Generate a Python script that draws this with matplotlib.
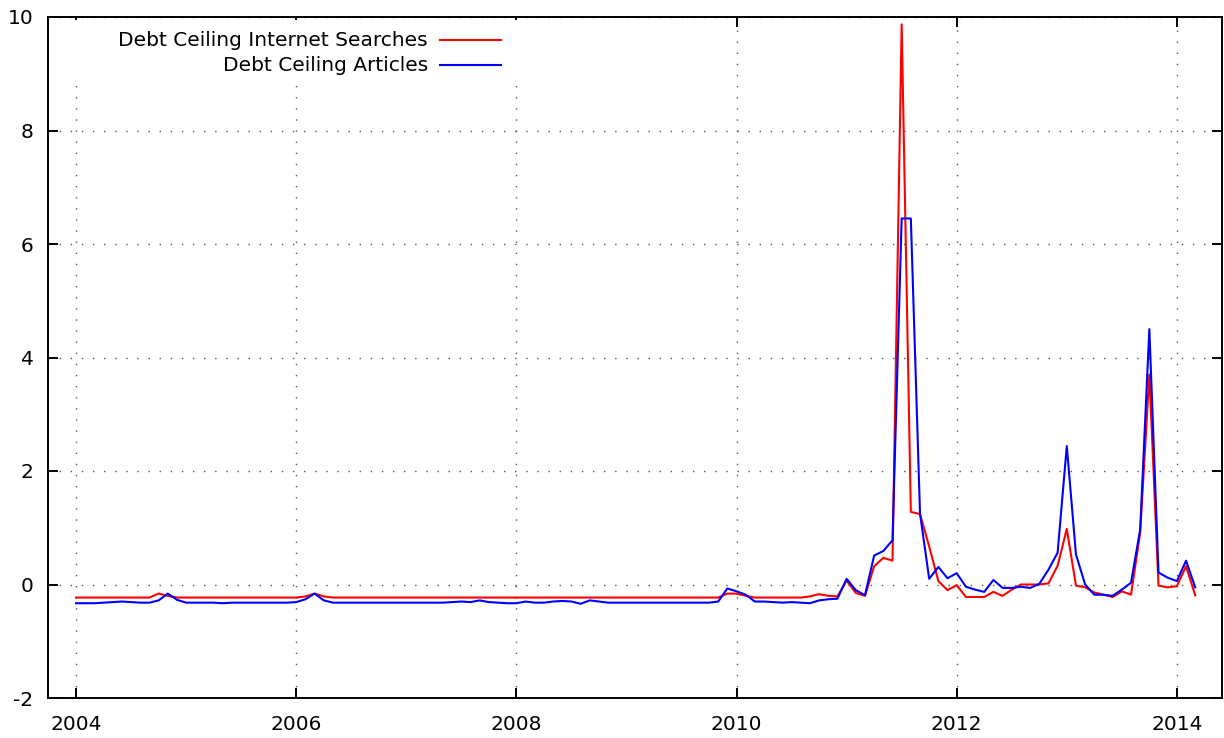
import numpy as np
import matplotlib
matplotlib.use("Agg")
import matplotlib.pyplot as plt

# Monthly data, Jan 2004 .. Mar 2014
start_year = 2004
n_months = 123

searches = [
    -0.23, -0.23, -0.23, -0.23, -0.23, -0.23, -0.23, -0.23, -0.23, -0.16,   # 2004-01..10
    -0.20, -0.23, -0.23, -0.23, -0.23, -0.23, -0.23, -0.23, -0.23, -0.23,   # ..2005-08
    -0.23, -0.23, -0.23, -0.23, -0.23, -0.21, -0.16, -0.21, -0.23, -0.23,   # ..2006-06
    -0.23, -0.23, -0.23, -0.23, -0.23, -0.23, -0.23, -0.23, -0.23, -0.23,   # ..2007-04
    -0.23, -0.23, -0.23, -0.23, -0.23, -0.23, -0.23, -0.23, -0.23, -0.23,   # ..2008-02
    -0.23, -0.23, -0.23, -0.23, -0.23, -0.23, -0.23, -0.23, -0.23, -0.23,   # ..2008-12
    -0.23, -0.23, -0.23, -0.23, -0.23, -0.23, -0.23, -0.23, -0.23, -0.23,   # ..2009-10
    -0.23, -0.16, -0.16, -0.20, -0.23, -0.23, -0.23, -0.23, -0.23, -0.23,   # ..2010-08
    -0.21, -0.17, -0.20, -0.21, 0.07, -0.15, -0.20, 0.32, 0.47, 0.42,       # ..2011-06
    9.87, 1.28, 1.24, 0.67, 0.06, -0.10, -0.01, -0.22, -0.22, -0.22,        # ..2012-04
    -0.13, -0.20, -0.09, 0.00, 0.00, 0.00, 0.02, 0.33, 0.98, -0.02,         # ..2013-02
    -0.05, -0.14, -0.18, -0.22, -0.12, -0.18, 0.91, 3.70, -0.02, -0.05,     # ..2013-12
    -0.03, 0.32, -0.19,                                                    # ..2014-03
]

articles = [
    -0.33, -0.33, -0.33, -0.32, -0.31, -0.30, -0.31, -0.32, -0.32, -0.28,
    -0.16, -0.27, -0.32, -0.32, -0.32, -0.32, -0.33, -0.32, -0.32, -0.32,
    -0.32, -0.32, -0.32, -0.32, -0.31, -0.26, -0.16, -0.28, -0.32, -0.32,
    -0.32, -0.32, -0.32, -0.32, -0.32, -0.32, -0.32, -0.32, -0.32, -0.32,
    -0.32, -0.31, -0.30, -0.31, -0.28, -0.31, -0.32, -0.33, -0.33, -0.30,
    -0.32, -0.32, -0.30, -0.29, -0.30, -0.34, -0.28, -0.30, -0.32, -0.32,
    -0.32, -0.32, -0.32, -0.32, -0.32, -0.32, -0.32, -0.32, -0.32, -0.32,
    -0.30, -0.07, -0.12, -0.18, -0.30, -0.30, -0.31, -0.32, -0.31, -0.32,
    -0.33, -0.28, -0.26, -0.25, 0.10, -0.10, -0.19, 0.51, 0.59, 0.78,
    6.45, 6.45, 1.25, 0.10, 0.31, 0.11, 0.20, -0.04, -0.09, -0.13,
    0.08, -0.06, -0.06, -0.04, -0.06, 0.01, 0.26, 0.56, 2.44, 0.53,
    0.00, -0.18, -0.18, -0.20, -0.09, 0.03, 0.97, 4.50, 0.21, 0.12,
    0.06, 0.42, -0.05,
]

labels = ["Debt Ceiling Internet Searches", "Debt Ceiling Articles"]
colors = ["#ff0000", "#0000ff"]
xticks = [2004, 2006, 2008, 2010, 2012, 2014]
yticks = [-2, 0, 2, 4, 6, 8, 10]

x = start_year + np.arange(n_months) / 12.0

fig = plt.figure(figsize=(12.24, 7.38), dpi=100)
ax = fig.add_axes([48 / 1224, 40 / 738, 1174 / 1224, 681 / 738])

ax.plot(x, searches, color=colors[0], lw=1.5)
ax.plot(x, articles, color=colors[1], lw=1.5)

ax.set_xlim(2003.745, 2014.41)
ax.set_ylim(-2, 10)
ax.set_xticks(xticks)
ax.set_yticks(yticks)
ax.set_xticklabels([str(t) for t in xticks])
ax.set_yticklabels([str(t) for t in yticks])

ax.grid(True, color="#555555", linestyle=(0, (1, 7)), linewidth=1.0)
ax.set_axisbelow(True)
for s in ax.spines.values():
    s.set_linewidth(1.4)
    s.set_color("black")
ax.tick_params(direction="in", length=7, width=1.4, top=True, right=True,
               labelsize=14.5, colors="black")
ax.tick_params(axis="y", pad=10.5)
ax.tick_params(axis="x", pad=12)

# gnuplot-style key: right-aligned text followed by line sample
key_bg = matplotlib.patches.Rectangle((0.01, 0.91), 0.41, 0.085, transform=ax.transAxes,
                                      facecolor="white", edgecolor="none", zorder=2.5)
ax.add_patch(key_bg)
rows = [0.9662, 0.9295]
for lab, col, yy in zip(labels, colors, rows):
    ax.text(0.3237, yy, lab, transform=ax.transAxes, ha="right", va="center",
            fontsize=14.5, zorder=3)
    ax.plot([0.3339, 0.3859], [yy, yy], transform=ax.transAxes, color=col,
            lw=1.5, zorder=3)

fig.savefig("out.png", dpi=100)
